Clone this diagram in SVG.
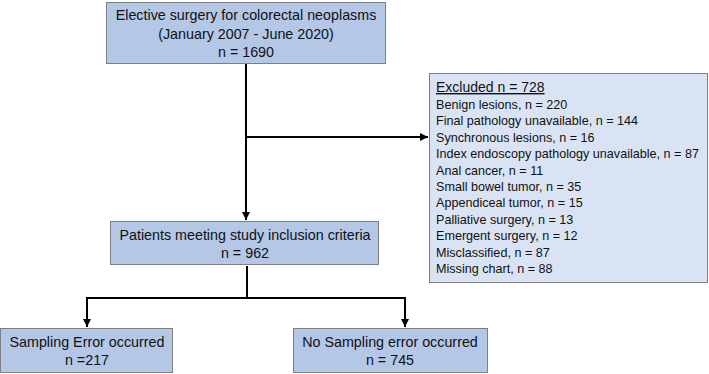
<svg xmlns="http://www.w3.org/2000/svg" width="709" height="374" viewBox="0 0 709 374">
<defs>
<style>
.box{fill:#b4c7e7;stroke:#7f7f7f;stroke-width:1}
.exc{fill:#dae3f3;stroke:#7f7f7f;stroke-width:1}
text{font-family:"Liberation Sans",Arial,sans-serif;font-size:14.3px;fill:#111}
.c{text-anchor:middle}
.l{text-anchor:start;font-size:12.6px}
.conn{stroke:#000;stroke-width:2;fill:none}
</style>
<marker id="ah" markerUnits="userSpaceOnUse" markerWidth="10" markerHeight="10" refX="8" refY="4" orient="auto">
<path d="M0,0 L8,4 L0,8 Z" fill="#000"/>
</marker>
</defs>
<rect width="709" height="374" fill="#fff"/>
<g id="connectors">
<path class="conn" d="M246,64 V220" marker-end="url(#ah)"/>
<path class="conn" d="M246,137 H428" marker-end="url(#ah)"/>
<path class="conn" d="M247,266 V298"/>
<path class="conn" d="M86,298 H406"/>
<path class="conn" d="M87,297 V327" marker-end="url(#ah)"/>
<path class="conn" d="M405,297 V327" marker-end="url(#ah)"/>
</g>
<g id="top">
<rect class="box" x="106.5" y="2.5" width="279" height="61"/>
<text class="c" x="246" y="20">Elective surgery for colorectal neoplasms</text>
<text class="c" x="246" y="39">(January 2007 - June 2020)</text>
<text class="c" x="246" y="57">n = 1690</text>
</g>
<g id="excluded">
<rect class="exc" x="429.5" y="73.5" width="278" height="209"/>
<text class="l" x="436" y="92" style="font-size:14px;text-decoration:underline">Excluded n = 728</text>
<text class="l" x="436" y="109">Benign lesions, n = 220</text>
<text class="l" x="436" y="125">Final pathology unavailable, n = 144</text>
<text class="l" x="436" y="142">Synchronous lesions, n = 16</text>
<text class="l" x="436" y="158">Index endoscopy pathology unavailable, n = 87</text>
<text class="l" x="436" y="175">Anal cancer, n = 11</text>
<text class="l" x="436" y="191">Small bowel tumor, n = 35</text>
<text class="l" x="436" y="207">Appendiceal tumor, n = 15</text>
<text class="l" x="436" y="224">Palliative surgery, n = 13</text>
<text class="l" x="436" y="240">Emergent surgery, n = 12</text>
<text class="l" x="436" y="257">Misclassified, n = 87</text>
<text class="l" x="436" y="273">Missing chart, n = 88</text>
</g>
<g id="included">
<rect class="box" x="110.5" y="221.5" width="268" height="43"/>
<text class="c" x="245" y="240">Patients meeting study inclusion criteria</text>
<text class="c" x="245" y="258">n = 962</text>
</g>
<g id="sampling-error">
<rect class="box" x="0.5" y="328.5" width="172" height="44"/>
<text class="c" x="87" y="347">Sampling Error occurred</text>
<text class="c" x="87" y="365">n =217</text>
</g>
<g id="no-sampling-error">
<rect class="box" x="293.5" y="328.5" width="194" height="44"/>
<text class="c" x="390" y="347">No Sampling error occurred</text>
<text class="c" x="390" y="365">n = 745</text>
</g>
</svg>
